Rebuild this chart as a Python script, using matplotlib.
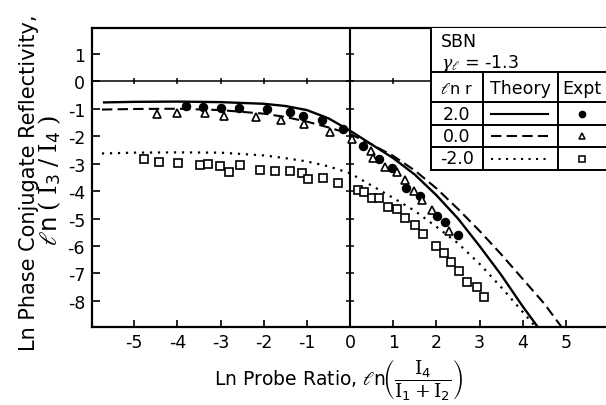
import matplotlib
matplotlib.use('Agg')
import matplotlib.pyplot as plt
from matplotlib.lines import Line2D
from matplotlib.patches import Rectangle

plt.rcParams['font.family'] = ['DejaVu Sans']
plt.rcParams['mathtext.fontset'] = 'dejavuserif'
plt.rcParams['axes.unicode_minus'] = False

# ---------------- data ----------------
x_ticks = [-5, -4, -3, -2, -1, 0, 1, 2, 3, 4, 5]
y_ticks = [1, 0, -1, -2, -3, -4, -5, -6, -7, -8]

# Theory, ln r = 2.0 (solid)
x_th2 = [-5.7, -5, -4, -3, -2, -1.5, -1, -0.5, 0, 0.5, 1, 1.5, 2, 2.5, 3, 3.5, 4, 4.35]
y_th2 = [-0.77, -0.75, -0.74, -0.76, -0.82, -0.9, -1.05, -1.35, -1.8, -2.3, -2.8, -3.4,
         -4.15, -5.0, -6.0, -7.05, -8.2, -8.95]
# Theory, ln r = 0.0 (dashed)
x_th0 = [-5.75, -5, -4, -3, -2, -1.5, -1, -0.5, 0, 0.5, 1, 1.5, 2, 2.5, 3, 3.5, 4, 4.5, 4.9]
y_th0 = [-1.03, -1.01, -1.0, -1.05, -1.18, -1.3, -1.47, -1.68, -1.92, -2.3, -2.72, -3.25,
         -3.9, -4.65, -5.45, -6.3, -7.2, -8.1, -8.95]
# Theory, ln r = -2.0 (dotted)
x_thm2 = [-5.75, -5, -4, -3, -2, -1.5, -1, -0.5, 0, 0.5, 1, 1.5, 2, 2.5, 3, 3.5, 4, 4.3]
y_thm2 = [-2.63, -2.6, -2.59, -2.6, -2.7, -2.8, -2.92, -3.1, -3.35, -3.8, -4.25, -4.72,
          -5.3, -5.9, -6.65, -7.5, -8.4, -8.95]

# Experiment, ln r = 2.0 (filled circles)
x_circ = [-3.81, -3.40, -2.98, -2.58, -1.93, -1.40, -1.09, -0.65, -0.16, 0.29, 0.68, 0.97,
          1.30, 1.61, 2.02, 2.21, 2.50]
y_circ = [-0.91, -0.92, -0.97, -0.98, -1.01, -1.13, -1.27, -1.41, -1.74, -2.35, -2.83, -3.17,
          -3.90, -4.19, -4.92, -5.13, -5.60]
# Experiment, ln r = 0.0 (open triangles)
x_tri = [-4.47, -4.01, -3.36, -2.92, -2.17, -1.60, -1.06, -0.47, 0.04, 0.48, 0.53, 0.81,
         1.09, 1.27, 1.48, 1.67, 1.90, 2.30]
y_tri = [-1.19, -1.15, -1.15, -1.25, -1.31, -1.40, -1.56, -1.86, -2.12, -2.53, -2.79, -3.13,
         -3.29, -3.60, -3.99, -4.33, -4.68, -5.47]
# Experiment, ln r = -2.0 (open squares)
x_sq = [-4.78, -4.42, -3.99, -3.47, -3.30, -3.01, -2.81, -2.54, -2.08, -1.73, -1.40, -1.12,
        -0.98, -0.63, -0.29, 0.19, 0.33, 0.50, 0.68, 0.87, 1.09, 1.28, 1.51, 1.69, 1.98,
        2.17, 2.35, 2.53, 2.71, 2.93, 3.10]
y_sq = [-2.83, -2.95, -2.98, -3.05, -3.01, -3.07, -3.29, -3.05, -3.22, -3.26, -3.28, -3.34,
        -3.56, -3.53, -3.70, -3.96, -4.04, -4.25, -4.25, -4.57, -4.65, -4.98, -5.23, -5.56,
        -5.99, -6.26, -6.59, -6.92, -7.30, -7.50, -7.84]

legend_rows = ['2.0', '0.0', '-2.0']

# ---------------- figure ----------------
W, H = 606, 406
fig = plt.figure(figsize=(W / 100, H / 100), dpi=100)


def fx(px):
    return px / W


def fy(py):
    return 1 - py / H


ax = fig.add_axes([fx(92), fy(328), fx(606) - fx(92), fy(29) - fy(328)])
ax.set_xlim(-5.98, 5.93)
ax.set_ylim(-8.95, 1.94)

for s in ['left', 'bottom', 'top']:
    ax.spines[s].set_linewidth(1.6)
ax.spines['right'].set_visible(False)

ax.set_xticks(x_ticks)
ax.set_xticklabels([str(t) for t in x_ticks])
ax.set_yticks(y_ticks)
ax.set_yticklabels([str(t) for t in y_ticks])
ax.tick_params(axis='x', direction='in', length=5, width=1.2, labelsize=12.5, pad=4,
               top=False)
ax.tick_params(axis='y', direction='in', length=6, width=1.2, labelsize=12.5, pad=5,
               right=False)

# zero lines with crossing ticks
ax.axhline(0, color='black', lw=1.1, zorder=1)
ax.axvline(0, color='black', lw=1.5, zorder=1)
ax.plot(x_ticks, [0] * len(x_ticks), ls='none', marker='|', ms=5, mew=1.1,
        color='black', zorder=1)
ax.plot([0] * len(y_ticks), y_ticks, ls='none', marker='_', ms=6, mew=1.1,
        color='black', zorder=1)

# theory curves
ax.plot(x_th2, y_th2, color='black', lw=1.7, solid_joinstyle='round')
ax.plot(x_th0, y_th0, color='black', lw=1.5, ls=(0, (5, 2.5)))
ax.plot(x_thm2, y_thm2, color='black', lw=1.6, ls=(0, (1, 2.6)))

# experiment
ax.plot(x_circ, y_circ, ls='none', marker='o', ms=5.8, color='black')
ax.plot(x_tri, y_tri, ls='none', marker='^', ms=6, mfc='white', mec='black', mew=1.2)
ax.plot(x_sq, y_sq, ls='none', marker='s', ms=5.5, mfc='white', mec='black', mew=1.2)

# axis labels
fig.text(fx(29), fy(183), 'Ln Phase Conjugate Reflectivity,', rotation=90,
         ha='center', va='center', fontsize=15)
fig.text(fx(50), fy(181),
         r'$\ell\mathsf{n}\;(\;\mathrm{I}_{\mathsf{3}}\;/\;\mathrm{I}_{\mathsf{4}}\;)$',
         rotation=90, ha='center', va='center', fontsize=17.5)
fig.text(fx(338), fy(380),
         r'Ln Probe Ratio, $\ell\mathsf{n}\!\left(\dfrac{\mathrm{I}_{\mathsf{4}}}'
         r'{\mathrm{I}_{\mathsf{1}}+\mathrm{I}_{\mathsf{2}}}\right)$',
         ha='center', va='center', fontsize=13.5)

# ---------------- legend table ----------------
L, R = 431, 606
T, B = 29, 170.7
fig.add_artist(Rectangle((fx(L), fy(B)), fx(R) - fx(L), fy(T) - fy(B),
                         transform=fig.transFigure, facecolor='white',
                         edgecolor='none', zorder=5))


def hline(y, x0, x1, lw=1.4):
    fig.add_artist(Line2D([fx(x0), fx(x1)], [fy(y), fy(y)], transform=fig.transFigure,
                          color='black', lw=lw, zorder=6))


def vline(x, y0, y1, lw=1.4):
    fig.add_artist(Line2D([fx(x), fx(x)], [fy(y0), fy(y1)], transform=fig.transFigure,
                          color='black', lw=lw, zorder=6))


vline(L, T, B)
for yy in [73.3, 102.7, 126, 148.3, 170.7]:
    hline(yy, L, R)
vline(482.7, 73.3, B)
vline(558.3, 73.3, B)

fs = 12.5
fig.text(fx(441), fy(42), 'SBN', ha='left', va='center', fontsize=fs, zorder=7)
fig.text(fx(441), fy(63), r'$\gamma_\ell$ = -1.3', ha='left', va='center', fontsize=fs,
         zorder=7)
fig.text(fx(457), fy(89), r'$\ell\mathsf{n}$ r', ha='center', va='center', fontsize=fs - 1,
         zorder=7)
fig.text(fx(520), fy(89), 'Theory', ha='center', va='center', fontsize=fs, zorder=7)
fig.text(fx(582), fy(89), 'Expt', ha='center', va='center', fontsize=fs, zorder=7)

row_y = [114.5, 137.2, 159.5]
for lab, yy in zip(legend_rows, row_y):
    fig.text(fx(457), fy(yy), lab, ha='center', va='center', fontsize=fs, zorder=7)

styles = ['-', (0, (5, 2.5)), (0, (1, 2.6))]
for st, yy in zip(styles, row_y):
    fig.add_artist(Line2D([fx(491), fx(548)], [fy(yy), fy(yy)], transform=fig.transFigure,
                          color='black', lw=1.5, ls=st, zorder=7))

fig.add_artist(Line2D([fx(582)], [fy(row_y[0])], transform=fig.transFigure, ls='none',
                      marker='o', ms=4.5, color='black', zorder=7))
fig.add_artist(Line2D([fx(582)], [fy(row_y[1])], transform=fig.transFigure, ls='none',
                      marker='^', ms=4.5, mfc='white', mec='black', mew=1.1, zorder=7))
fig.add_artist(Line2D([fx(582)], [fy(row_y[2])], transform=fig.transFigure, ls='none',
                      marker='s', ms=4.2, mfc='white', mec='black', mew=1.1, zorder=7))

fig.savefig('out.png', dpi=100)
